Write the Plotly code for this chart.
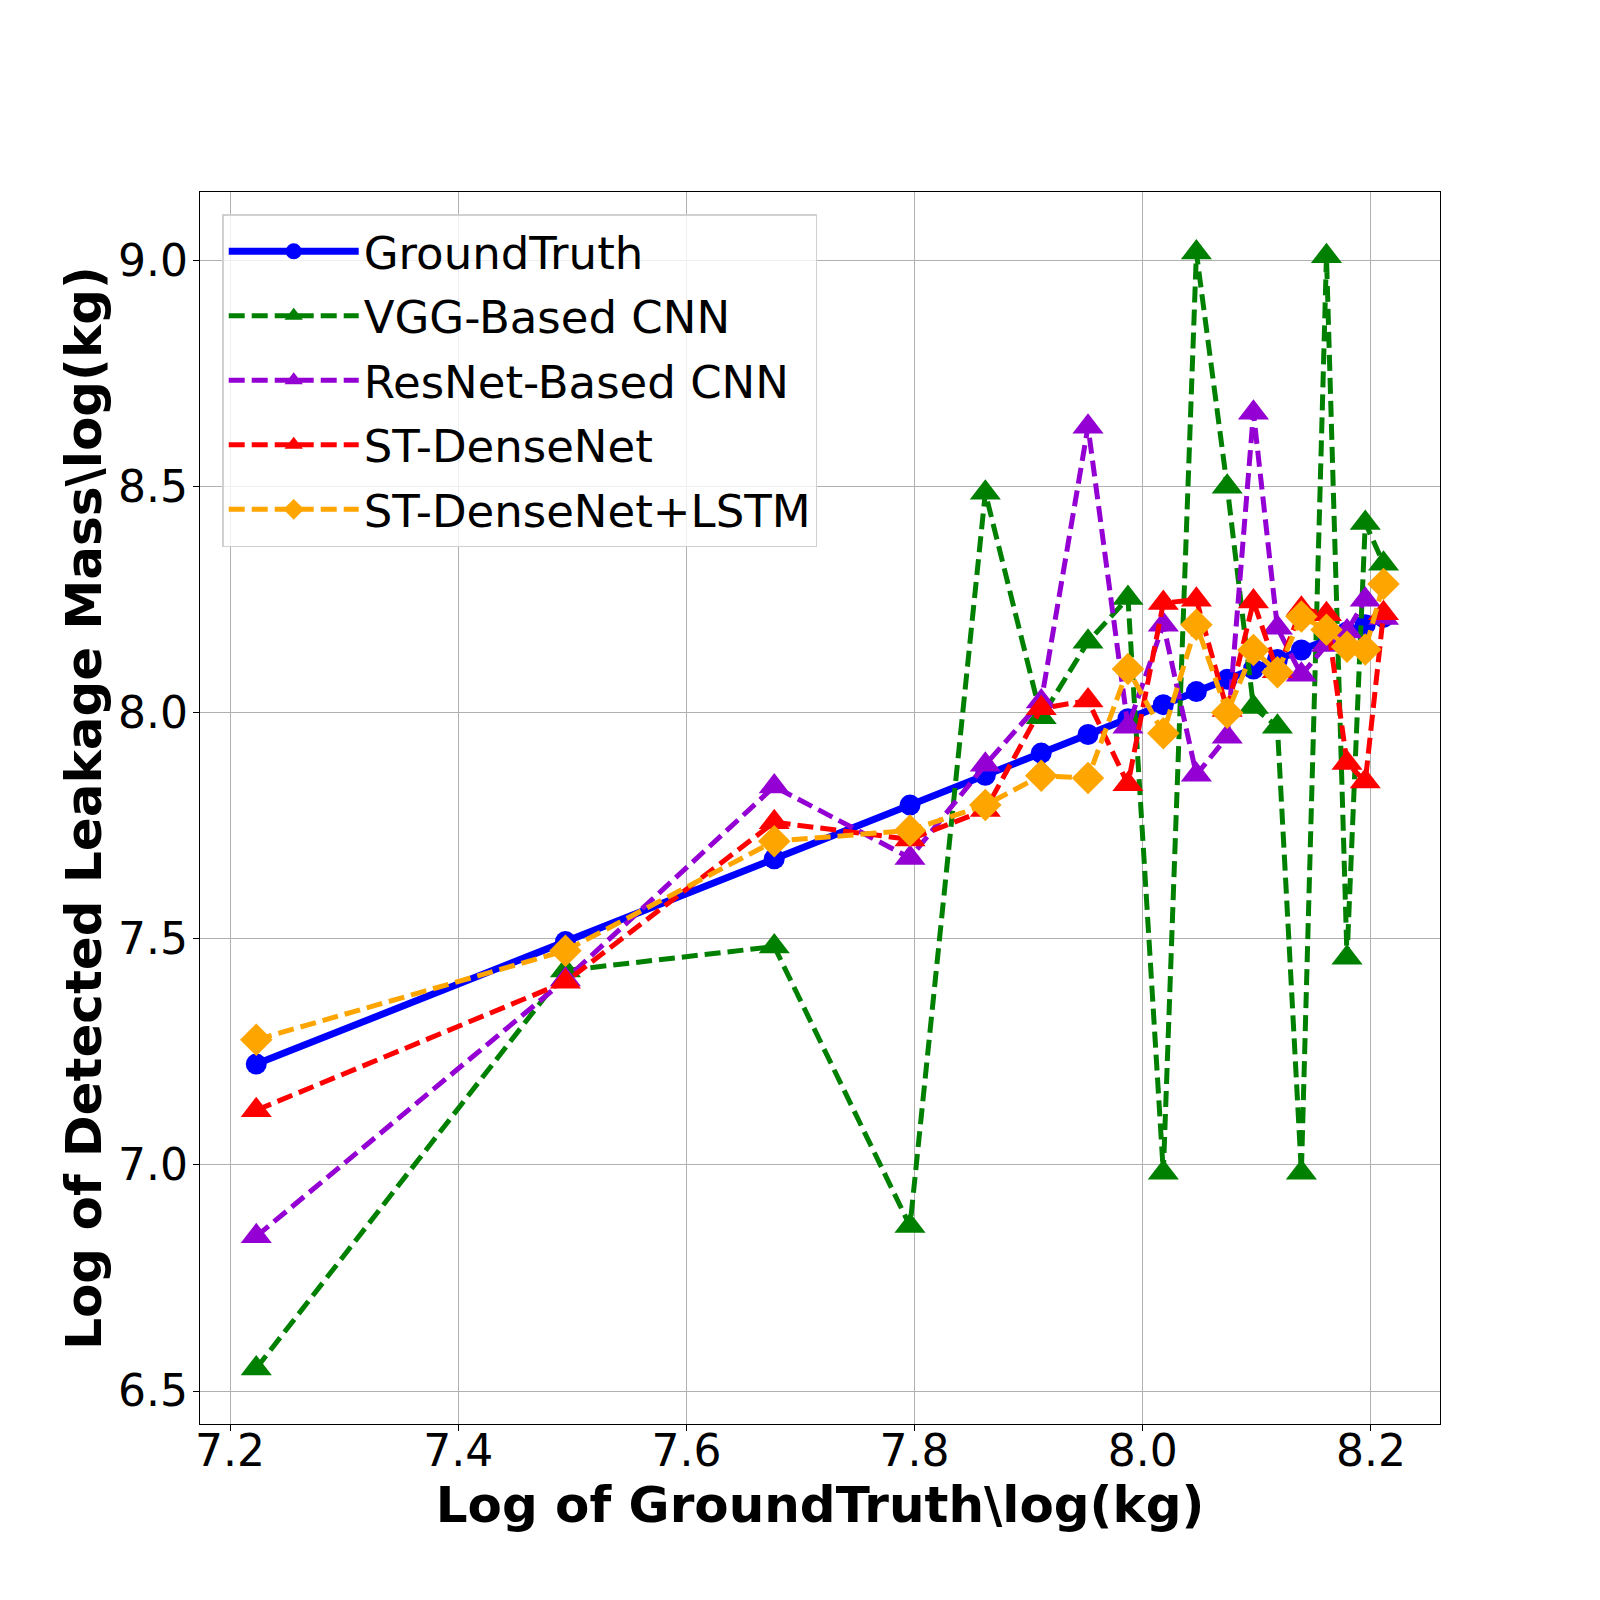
import plotly.graph_objects as go

# GroundTruth values (also used as the x positions)
ground_truth = [7.223, 7.494, 7.677, 7.796, 7.862, 7.911, 7.952, 7.987, 8.018,
                8.047, 8.074, 8.097, 8.118, 8.139, 8.161, 8.179, 8.195, 8.211]
vgg_cnn = [6.55, 7.43, 7.483, 6.865, 8.487, 7.99, 8.157, 8.254, 6.983,
           9.018, 8.50, 8.013, 7.969, 6.983, 9.01, 7.458, 8.42, 8.33]
resnet_cnn = [6.842, 7.41, 7.837, 7.679, 7.885, 8.025, 8.633, 7.969, 8.195,
              7.863, 7.947, 8.664, 8.188, 8.084, 8.15, 8.18, 8.25, 8.21]
st_densenet = [7.121, 7.405, 7.758, 7.72, 7.785, 8.01, 8.027, 7.842, 8.243,
               8.25, 8.006, 8.246, 8.092, 8.23, 8.218, 7.889, 7.848, 8.22]
st_densenet_lstm = [7.277, 7.474, 7.716, 7.74, 7.796, 7.861, 7.856, 8.097, 7.955,
                    8.195, 8.0, 8.139, 8.09, 8.213, 8.184, 8.146, 8.14, 8.285]

x_ticks = [7.2, 7.4, 7.6, 7.8, 8.0, 8.2]
y_ticks = [6.5, 7.0, 7.5, 8.0, 8.5, 9.0]

FONT = "DejaVu Sans"
DASH = "16px,7px"

fig = go.Figure()
fig.add_trace(go.Scatter(
    x=ground_truth, y=ground_truth, mode="lines+markers", name="GroundTruth",
    legendgroup="gt",
    line=dict(color="blue", width=7),
    marker=dict(symbol="circle", size=21, color="blue"),
))
series = [
    ("VGG-Based CNN", vgg_cnn, "green", "triangle-up", 27),
    ("ResNet-Based CNN", resnet_cnn, "darkviolet", "triangle-up", 27),
    ("ST-DenseNet", st_densenet, "red", "triangle-up", 27),
    ("ST-DenseNet+LSTM", st_densenet_lstm, "orange", "diamond", 25),
]
for name, vals, color, symbol, size in series:
    fig.add_trace(go.Scatter(
        x=ground_truth, y=vals, mode="lines+markers", name=name,
        legendgroup=name,
        line=dict(color=color, width=5, dash=DASH),
        marker=dict(symbol=symbol, size=size, color=color),
    ))

axis_common = dict(
    showline=True, linecolor="black", linewidth=1.4, mirror=True,
    showgrid=True, gridcolor="#b0b0b0", gridwidth=1,
    ticks="outside", ticklen=6, tickwidth=1.4, tickcolor="black",
    tickfont=dict(family=FONT, size=44, color="black"),
    zeroline=False,
)
fig.update_xaxes(
    range=[7.1737, 8.2605], tickvals=x_ticks, tickformat=".1f",
    ticklabelstandoff=-18,
    title=dict(text=r"Log of GroundTruth\log(kg)", standoff=6,
               font=dict(family=FONT, size=50, color="black", weight="bold")),
    **axis_common,
)
fig.update_yaxes(
    range=[6.427, 9.152], tickvals=y_ticks, tickformat=".1f",
    ticklabelstandoff=-4,
    title=dict(text=r"Log of Detected Leakage Mass\log(kg)", standoff=0,
               font=dict(family=FONT, size=50, color="black", weight="bold")),
    **axis_common,
)
fig.update_layout(
    width=1600, height=1600,
    margin=dict(l=192, r=168, t=184, b=184),
    paper_bgcolor="white", plot_bgcolor="white",
    font=dict(family=FONT, color="black"),
    legend=dict(
        x=0.018, y=0.982, xanchor="left", yanchor="top",
        bgcolor="rgba(255,255,255,0.8)", bordercolor="#d0d0d0", borderwidth=1.4,
        font=dict(family=FONT, size=45, color="black"),
        itemwidth=130, tracegroupgap=3,
    ),
)
fig.write_html("out.html")
